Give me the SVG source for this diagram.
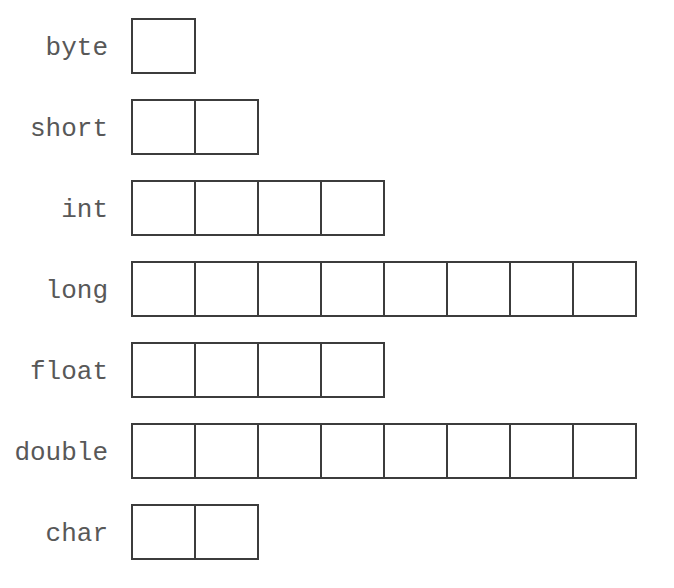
<svg xmlns="http://www.w3.org/2000/svg" width="674" height="588" viewBox="0 0 674 588">
<style>
.lbl{font-family:"Liberation Mono","Courier New",monospace;font-size:26px;fill:#585858;text-anchor:end}
.c{fill:#fff;stroke:#3c3c3c;stroke-width:2}
</style>
<defs>
<rect id="cell" class="c" width="63" height="54"/>
</defs>
<rect width="674" height="588" fill="#fff"/>
<g id="byte"><text class="lbl" x="108" y="55">byte</text>
<use href="#cell" x="132" y="19"/></g>
<g id="short"><text class="lbl" x="108" y="136">short</text>
<use href="#cell" x="132" y="100"/><use href="#cell" x="195" y="100"/></g>
<g id="int"><text class="lbl" x="108" y="217">int</text>
<use href="#cell" x="132" y="181"/><use href="#cell" x="195" y="181"/><use href="#cell" x="258" y="181"/><use href="#cell" x="321" y="181"/></g>
<g id="long"><text class="lbl" x="108" y="298">long</text>
<use href="#cell" x="132" y="262"/><use href="#cell" x="195" y="262"/><use href="#cell" x="258" y="262"/><use href="#cell" x="321" y="262"/><use href="#cell" x="384" y="262"/><use href="#cell" x="447" y="262"/><use href="#cell" x="510" y="262"/><use href="#cell" x="573" y="262"/></g>
<g id="float"><text class="lbl" x="108" y="379">float</text>
<use href="#cell" x="132" y="343"/><use href="#cell" x="195" y="343"/><use href="#cell" x="258" y="343"/><use href="#cell" x="321" y="343"/></g>
<g id="double"><text class="lbl" x="108" y="460">double</text>
<use href="#cell" x="132" y="424"/><use href="#cell" x="195" y="424"/><use href="#cell" x="258" y="424"/><use href="#cell" x="321" y="424"/><use href="#cell" x="384" y="424"/><use href="#cell" x="447" y="424"/><use href="#cell" x="510" y="424"/><use href="#cell" x="573" y="424"/></g>
<g id="char"><text class="lbl" x="108" y="541">char</text>
<use href="#cell" x="132" y="505"/><use href="#cell" x="195" y="505"/></g>
<g id="connectors"/>
</svg>
